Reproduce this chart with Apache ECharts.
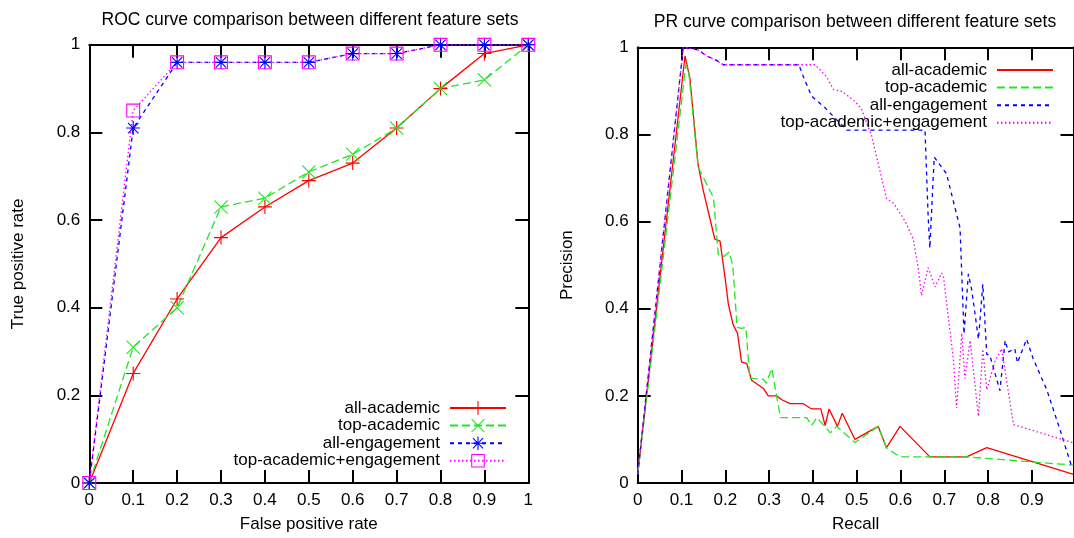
<!DOCTYPE html>
<html><head><meta charset="utf-8">
<script src="https://cdn.jsdelivr.net/npm/echarts@6/dist/echarts.min.js"></script>
<style>
html,body{margin:0;padding:0;background:#fff;width:1074px;height:538px;overflow:hidden;}
#roc{position:absolute;left:0;top:0;width:540px;height:538px;}
#pr{position:absolute;left:540px;top:0;width:534px;height:538px;}
</style>
</head><body>
<div id="roc"></div><div id="pr"></div>
<script>
// ---------- data ----------
const seriesNames = ['all-academic', 'top-academic', 'all-engagement', 'top-academic+engagement'];

// ROC curve
const rocFpr               = [0, 0.1, 0.2, 0.3, 0.4, 0.5, 0.6, 0.7, 0.8, 0.9, 1];
const rocAllAcademic       = [0, 0.25, 0.42, 0.56, 0.63, 0.69, 0.73, 0.81, 0.90, 0.98, 1];
const rocTopAcademic       = [0, 0.31, 0.40, 0.63, 0.65, 0.71, 0.75, 0.81, 0.90, 0.92, 1];
const rocAllEngagement     = [0, 0.81, 0.96, 0.96, 0.96, 0.96, 0.98, 0.98, 1, 1, 1];
const rocTopAcadEngagement = [0, 0.85, 0.96, 0.96, 0.96, 0.96, 0.98, 0.98, 1, 1, 1];

// PR curve
const prAllAcademicRecall    = [0, 0.108, 0.119, 0.138, 0.15, 0.176, 0.188, 0.199, 0.207, 0.218, 0.228, 0.237, 0.249, 0.26, 0.287, 0.298, 0.317, 0.329, 0.348, 0.378, 0.397, 0.418, 0.428, 0.437, 0.456, 0.467, 0.496, 0.549, 0.568, 0.599, 0.667, 0.751, 0.797, 0.995];
const prAllAcademicPrecision = [0.02, 0.98, 0.93, 0.73, 0.67, 0.56, 0.555, 0.475, 0.41, 0.363, 0.343, 0.278, 0.274, 0.236, 0.217, 0.2, 0.2, 0.191, 0.182, 0.182, 0.17, 0.17, 0.132, 0.17, 0.13, 0.16, 0.1, 0.13, 0.081, 0.13, 0.06, 0.06, 0.081, 0.02];

const prTopAcademicRecall    = [0, 0.11, 0.116, 0.138, 0.173, 0.184, 0.197, 0.209, 0.217, 0.227, 0.237, 0.247, 0.256, 0.287, 0.294, 0.306, 0.326, 0.386, 0.397, 0.409, 0.44, 0.454, 0.496, 0.549, 0.568, 0.599, 0.751, 0.995];
const prTopAcademicPrecision = [0.02, 0.96, 0.948, 0.725, 0.655, 0.524, 0.52, 0.53, 0.5, 0.357, 0.355, 0.357, 0.24, 0.238, 0.229, 0.263, 0.15, 0.15, 0.132, 0.15, 0.115, 0.13, 0.093, 0.13, 0.08, 0.06, 0.06, 0.041];

const prAllEngagementRecall    = [0, 0.104, 0.138, 0.158, 0.18, 0.195, 0.368, 0.378, 0.397, 0.428, 0.447, 0.477, 0.656, 0.663, 0.667, 0.677, 0.705, 0.736, 0.745, 0.755, 0.763, 0.778, 0.788, 0.797, 0.804, 0.827, 0.839, 0.846, 0.861, 0.867, 0.888, 0.903, 0.934, 0.964, 0.99];
const prAllEngagementPrecision = [0.02, 1.0, 0.994, 0.98, 0.97, 0.96, 0.96, 0.933, 0.888, 0.861, 0.841, 0.81, 0.81, 0.615, 0.539, 0.748, 0.71, 0.585, 0.342, 0.48, 0.441, 0.33, 0.456, 0.295, 0.293, 0.212, 0.327, 0.301, 0.308, 0.276, 0.33, 0.285, 0.214, 0.123, 0.04];

const prTopAcadEngagementRecall    = [0, 0.104, 0.138, 0.158, 0.18, 0.195, 0.405, 0.431, 0.447, 0.466, 0.496, 0.511, 0.534, 0.568, 0.584, 0.61, 0.629, 0.641, 0.648, 0.663, 0.679, 0.694, 0.698, 0.721, 0.728, 0.74, 0.747, 0.759, 0.778, 0.788, 0.797, 0.816, 0.831, 0.858, 0.995];
const prTopAcadEngagementPrecision = [0.02, 1.0, 0.994, 0.98, 0.97, 0.96, 0.96, 0.933, 0.903, 0.899, 0.876, 0.858, 0.797, 0.653, 0.642, 0.602, 0.56, 0.49, 0.43, 0.494, 0.45, 0.482, 0.475, 0.282, 0.172, 0.344, 0.24, 0.327, 0.153, 0.307, 0.214, 0.28, 0.308, 0.134, 0.092];

// ---------- styling ----------
const FONT = 'Liberation Sans, Arial, Helvetica, sans-serif';
const FS = 17;
const colors = ['#ff0000', '#22e622', '#0000ff', '#ff00ff'];
const dashes = ['solid', [8, 4], [4, 4], [1.5, 2.5]];
const symPlus = 'path://M0,9.2L20,9.2L20,10.8L0,10.8Z M9.2,0L10.8,0L10.8,20L9.2,20Z';
const symCross = 'path://M0,1.1L1.1,0L20,18.9L18.9,20Z M18.9,0L20,1.1L1.1,20L0,18.9Z';
const symStar = 'path://M0,9.2L20,9.2L20,10.8L0,10.8Z M9.2,0L10.8,0L10.8,20L9.2,20Z M2,3.1L3.1,2L18,16.9L16.9,18Z M16.9,2L18,3.1L3.1,18L2,16.9Z';
const symSquare = 'path://M0,0L20,0L20,20L0,20Z M1.6,1.6L1.6,18.4L18.4,18.4L18.4,1.6Z';
const symbols = [symPlus, symCross, symStar, symSquare];

const zip = (a, b) => a.map((v, i) => [v, b[i]]);

function axisBase(min, max, interval) {
  return {
    type: 'value', min, max, interval,
    axisLine: { show: true, onZero: false, lineStyle: { color: '#000', width: 2 } },
    axisTick: { show: true, inside: true, length: 13, lineStyle: { color: '#000', width: 2 } },
    splitLine: { show: false },
    axisLabel: { color: '#000', fontSize: FS, fontFamily: FONT }
  };
}
function nameStyle() { return { color: '#000', fontSize: FS, fontFamily: FONT }; }

function makeAxes(xmax, xName, yName) {
  const xb = Object.assign(axisBase(0, xmax, 0.1), {
    position: 'bottom', name: xName, nameLocation: 'middle', nameGap: 33, nameTextStyle: nameStyle()
  });
  xb.axisLabel.margin = 9;
  xb.axisLabel.showMaxLabel = xmax === 1;
  const xt = Object.assign(axisBase(0, xmax, 0.1), { position: 'top' });
  xt.axisLabel.show = false;
  const yl = Object.assign(axisBase(0, 1, 0.2), {
    position: 'left', name: yName, nameLocation: 'middle', nameGap: 62, nameTextStyle: nameStyle()
  });
  yl.axisLabel.margin = 9;
  const yr = Object.assign(axisBase(0, 1, 0.2), { position: 'right' });
  yr.axisLabel.show = false;
  return { xAxis: [xb, xt], yAxis: [yl, yr] };
}

function legendOpt(right, top, hideSymbol) {
  const o = {
    orient: 'vertical', align: 'right', right, top, padding: 0,
    itemWidth: 56, itemHeight: 17, itemGap: 0.6,
    textStyle: { color: '#000', fontSize: FS, fontFamily: FONT, padding: [0, 5, 0, 0] },
    data: seriesNames,
    selectedMode: false
  };
  if (hideSymbol) o.itemStyle = { opacity: 0 };
  return o;
}

// ---------- ROC chart ----------
const roc = echarts.init(document.getElementById('roc'), null, { renderer: 'canvas' });
const rocAxes = makeAxes(1, 'False positive rate', 'True positive rate');
const rocValues = [rocAllAcademic, rocTopAcademic, rocAllEngagement, rocTopAcadEngagement];
roc.setOption({
  animation: false,
  backgroundColor: 'transparent',
  title: {
    text: 'ROC curve comparison between different feature sets',
    left: 310, top: 11, textAlign: 'center', padding: 0,
    textStyle: { color: '#000', fontSize: 17.5, fontWeight: 'normal', fontFamily: FONT }
  },
  legend: legendOpt(33, 399.5, false),
  grid: { left: 89.3, top: 44.8, width: 439, height: 438.5 },
  xAxis: rocAxes.xAxis,
  yAxis: rocAxes.yAxis,
  series: seriesNames.map((name, i) => ({
    name, type: 'line', xAxisIndex: 0, yAxisIndex: 0,
    data: zip(rocFpr, rocValues[i]),
    symbol: symbols[i], symbolSize: 14, showSymbol: true, clip: false,
    itemStyle: { color: colors[i], borderWidth: 0 },
    lineStyle: { color: colors[i], width: 1.3, type: dashes[i] },
    emphasis: { disabled: true }
  }))
});

// ---------- PR chart ----------
const pr = echarts.init(document.getElementById('pr'), null, { renderer: 'canvas' });
const prAxes = makeAxes(0.995, 'Recall', 'Precision');
const prRecall = [prAllAcademicRecall, prTopAcademicRecall, prAllEngagementRecall, prTopAcadEngagementRecall];
const prPrecision = [prAllAcademicPrecision, prTopAcademicPrecision, prAllEngagementPrecision, prTopAcadEngagementPrecision];
pr.setOption({
  animation: false,
  backgroundColor: 'transparent',
  title: {
    text: 'PR curve comparison between different feature sets',
    left: 315, top: 13, textAlign: 'center', padding: 0,
    textStyle: { color: '#000', fontSize: 17.5, fontWeight: 'normal', fontFamily: FONT }
  },
  legend: legendOpt(20, 61.5, true),
  grid: { left: 97.7, top: 47.3, width: 435.8, height: 440 },
  xAxis: prAxes.xAxis,
  yAxis: prAxes.yAxis,
  series: seriesNames.map((name, i) => ({
    name, type: 'line', xAxisIndex: 0, yAxisIndex: 0,
    data: zip(prRecall[i], prPrecision[i]),
    symbol: 'circle', showSymbol: false,
    itemStyle: { color: colors[i] },
    lineStyle: { color: colors[i], width: 1.3, type: dashes[i] },
    emphasis: { disabled: true }
  }))
});
</script>
</body></html>
